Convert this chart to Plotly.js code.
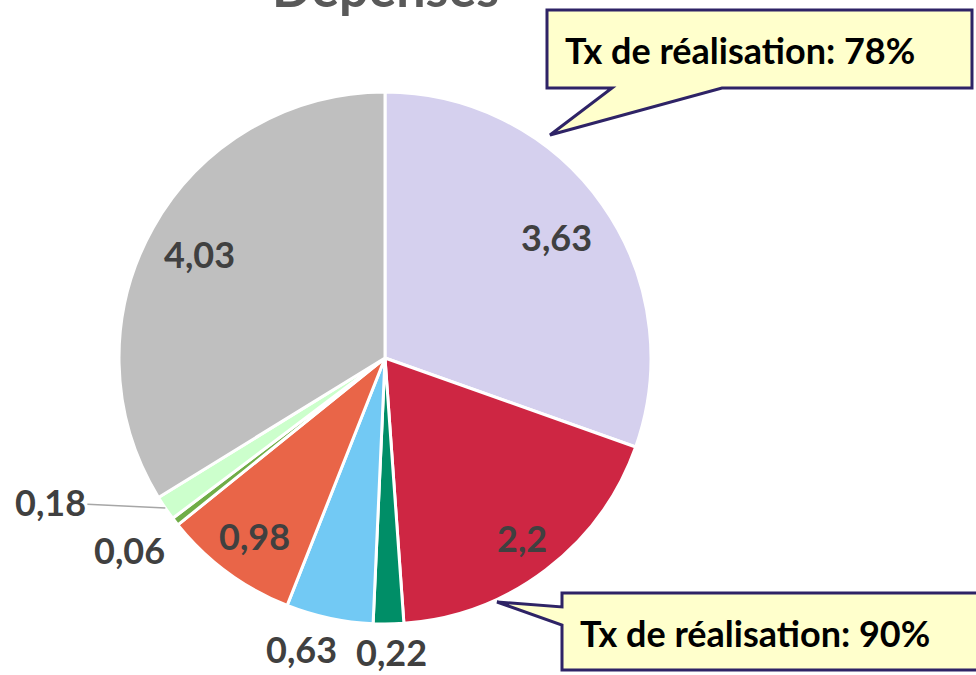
<!DOCTYPE html>
<html><head><meta charset="utf-8">
<script src="https://cdn.plot.ly/plotly-3.0.1.min.js"></script>
<style>html,body{margin:0;padding:0;background:#fff}</style>
</head><body>
<div id="chart" style="width:976px;height:675px"></div>
<script>
const categories = ["A","B","C","D","E","F","G","H"];
const values = [3.63, 2.2, 0.22, 0.63, 0.98, 0.06, 0.18, 4.03];
const sliceColors = ["#D5D0EE","#CE2643","#008E67","#72C9F4","#E96548","#70AD47","#CCFFCC","#BFBFBF"];
const labelRadius = [0.79, 0.85, 1.105, 1.14, 0.83, 1.2, 1.37, 0.8];
const labelAngleShift = [0, 0, -0.5, 4, 0, 1, 11, 0];
const leaderLine = [false, false, false, false, false, false, true, false];
const titleText = "Dépenses";
const callout1 = "Tx de réalisation: 78%";
const callout2 = "Tx de réalisation: 90%";

const W = 976, H = 675;
const px = x => x / W;
const py = y => 1 - y / H;
const P = (x, y) => px(x).toFixed(5) + "," + py(y).toFixed(5);

const cx = 385, cy = 358, r = 266;
const FONT = "Lato, 'Open Sans', sans-serif";

const trace = {
  type: "pie",
  labels: categories,
  values: values,
  textinfo: "none",
  hoverinfo: "none",
  sort: false,
  direction: "clockwise",
  rotation: 0,
  marker: {colors: sliceColors, line: {color: "#FFFFFF", width: 3}},
  domain: {x: [px(cx - r), px(cx + r)], y: [py(cy + r), py(cy - r)]},
  showlegend: false
};

// value labels placed along each slice's mid-angle (derived from the values)
const total = values.reduce((a, b) => a + b, 0);
let cum = 0;
const labelAnns = values.map((v, i) => {
  const midFrac = (cum + v / 2) / total;
  cum += v;
  const angMid = midFrac * 2 * Math.PI;
  const ang = angMid + labelAngleShift[i] * Math.PI / 180;
  const lx = cx + labelRadius[i] * r * Math.sin(ang);
  const ly = cy - labelRadius[i] * r * Math.cos(ang);
  const txt = "<b>" + String(v).replace(".", ",") + "</b>";
  const font = {family: FONT, size: 36, color: "#404040"};
  if (leaderLine[i]) {
    const ex = cx + r * Math.sin(angMid);
    const ey = cy - r * Math.cos(angMid);
    return {text: txt, xref: "paper", yref: "paper", x: px(ex), y: py(ey),
      ax: lx - ex, ay: ly - ey, axref: "pixel", ayref: "pixel",
      showarrow: true, arrowhead: 0, arrowwidth: 1.5, arrowcolor: "#A6A6A6", standoff: 0,
      font: font};
  }
  return {text: txt, xref: "paper", yref: "paper", x: px(lx), y: py(ly),
    xanchor: "center", yanchor: "middle", showarrow: false, font: font};
});

const bubble1 = "M" + P(547, 10) + " L" + P(972, 10) + " L" + P(972, 88) + " L" + P(722, 88) +
  " L" + P(550, 135) + " L" + P(612, 88) + " L" + P(547, 88) + " Z";
const bubble2 = "M" + P(562, 593) + " L" + P(990, 593) + " L" + P(990, 670) + " L" + P(562, 670) +
  " L" + P(562, 625) + " L" + P(497, 602) + " L" + P(562, 607) + " Z";

const layout = {
  width: W, height: H,
  margin: {l: 0, r: 0, t: 0, b: 0},
  paper_bgcolor: "#FFFFFF",
  showlegend: false,
  shapes: [
    {type: "path", xref: "paper", yref: "paper", path: bubble1, fillcolor: "#FFFFCC", line: {color: "#2E2366", width: 3}},
    {type: "path", xref: "paper", yref: "paper", path: bubble2, fillcolor: "#FFFFCC", line: {color: "#2E2366", width: 3}}
  ],
  annotations: [
    {text: "<b>" + titleText + "</b>", xref: "paper", yref: "paper", x: px(385), y: py(20), xanchor: "center", yanchor: "bottom",
     showarrow: false, font: {family: FONT, size: 52, color: "#595959"}},
    {text: "<b>" + callout1 + "</b>", xref: "paper", yref: "paper", x: px(563), y: py(50), xanchor: "left", yanchor: "middle",
     showarrow: false, font: {family: FONT, size: 36, color: "#000000"}},
    {text: "<b>" + callout2 + "</b>", xref: "paper", yref: "paper", x: px(578), y: py(633), xanchor: "left", yanchor: "middle",
     showarrow: false, font: {family: FONT, size: 36, color: "#000000"}}
  ].concat(labelAnns)
};

Plotly.newPlot("chart", [trace], layout, {displayModeBar: false, staticPlot: true});
</script>
</body></html>
